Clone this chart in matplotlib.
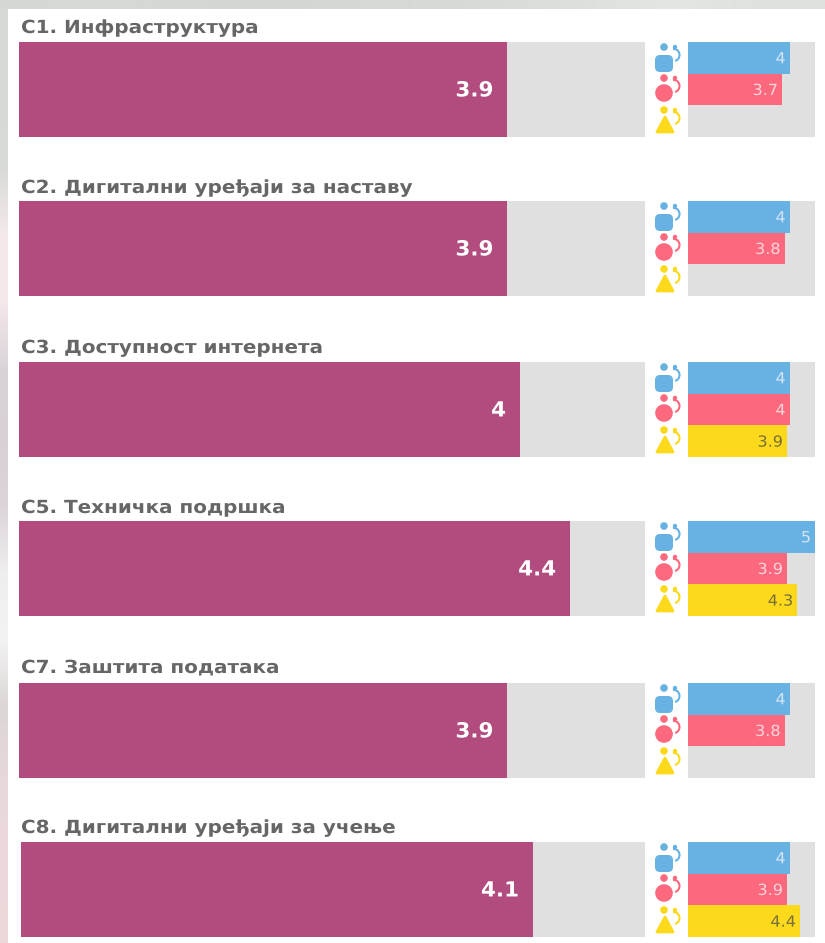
import matplotlib
matplotlib.use("Agg")
import matplotlib.pyplot as plt
import numpy as np
from matplotlib.colors import to_rgb
from matplotlib.patches import Circle, FancyBboxPatch, Polygon, Arc
from matplotlib.patheffects import AbstractPathEffect
from matplotlib.transforms import Affine2D

plt.rcParams['font.family'] = ['DejaVu Sans']

titles = ["C1. Инфраструктура", "C2. Дигитални уређаји за наставу", "C3. Доступност интернета",
          "C5. Техничка подршка", "C7. Заштита података", "C8. Дигитални уређаји за учење"]
overall = [3.9, 3.9, 4, 4.4, 3.9, 4.1]
blue = [4, 4, 4, 5, 4, 4]
red = [3.7, 3.8, 4, 3.9, 3.8, 3.9]
yellow = [None, None, 3.9, 4.3, None, 4.4]
tops = [42, 201, 362, 521, 683, 842]
title_ys = [28, 188, 348, 508, 668, 828]
lefts = [19, 19, 19, 19, 19, 21]
left_strip = ["#d6d9d6", "#d6d9d6", "#d9dbd9", "#f4e9eb", "#f3e7ea", "#d9d3d8", "#d8d0d6", "#dcd4da",
              "#efeeee", "#f3f3f3", "#dcd6d6", "#e6d8da", "#ecd9db", "#ecd8da"]
top_strip = ["#d5d8d5", "#d6d8d5", "#d3d6d3", "#d5d8d5", "#d8dad7", "#dcdfdb", "#e4e6e2", "#dfe1de"]

W, H = 825, 943
fig = plt.figure(figsize=(W / 100, H / 100), dpi=100, facecolor="white")

# canvas in pixels for the background and icons
bg = fig.add_axes([0, 0, 1, 1])
bg.imshow(np.array([[to_rgb(c)] for c in left_strip]), extent=(0, 8, H, 0), aspect="auto", interpolation="bilinear")
bg.imshow(np.array([[to_rgb(c) for c in top_strip]]), extent=(0, W, 9, 0), aspect="auto", interpolation="bilinear")
bg.set_xlim(0, W)
bg.set_ylim(H, 0)
bg.axis("off")


class Widen(AbstractPathEffect):
    # the original text is wider than DejaVu, stretch it sideways
    def __init__(self, sx, right=False):
        super().__init__()
        self.sx = sx
        self.right = right

    def draw_path(self, renderer, gc, tpath, affine, rgbFace=None):
        x0 = tpath.get_extents().x1 if self.right else 0
        stretch = Affine2D().translate(-x0, 0).scale(self.sx, 1).translate(x0, 0)
        renderer.draw_path(gc, tpath, stretch + affine, rgbFace)


def make_axes(x0, x1, top, bottom):
    ax = fig.add_axes([x0 / W, 1 - bottom / H, (x1 - x0) / W, (bottom - top) / H])
    ax.set_facecolor("#e0e0e0")
    ax.set_xlim(0, 5)
    ax.set_xticks([])
    ax.set_yticks([])
    for s in ax.spines.values():
        s.set_visible(False)
    return ax


def draw_icon(kind, cx, cy, color):
    # big figure on the left, small one with an arm on the right
    bg.add_patch(Circle((cx - 3, cy - 12), 3.8, color=color, lw=0))
    if kind == "square":
        bg.add_patch(FancyBboxPatch((cx - 12, cy - 4), 18, 17, boxstyle="round,pad=0,rounding_size=5", color=color, lw=0))
    elif kind == "circle":
        bg.add_patch(Circle((cx - 3, cy + 3), 8.8, color=color, lw=0))
    else:
        bg.add_patch(Polygon([(cx - 2, cy - 5), (cx + 6, cy + 10), (cx - 10, cy + 10)], closed=True,
                             facecolor=color, edgecolor=color, lw=2, joinstyle="round"))
    bg.add_patch(Circle((cx + 8, cy - 12), 2.2, color=color, lw=0))
    bg.add_patch(Arc((cx + 7, cy - 4), 11, 12, theta1=-100, theta2=80, color=color, lw=1.5))


for i in range(len(titles)):
    top = tops[i]
    bottom = top + 95
    bg.text(21, title_ys[i], titles[i], fontsize=13, fontweight="bold", color="#666666", va="center", ha="left",
            path_effects=[Widen(1.105)])

    ax = make_axes(lefts[i], 645, top, bottom)
    ax.set_ylim(0, 1)
    ax.barh(0.5, overall[i], height=1, color="#b24c7f", linewidth=0)
    ax.text(overall[i] - 0.11, 0.49, str(overall[i]), color="white", fontsize=15, fontweight="bold",
            ha="right", va="center", path_effects=[Widen(1.03, right=True)])

    small = make_axes(688, 815, top, bottom)
    small.set_ylim(3, 0)
    small.barh(0.5, blue[i], height=1, color="#68b2e3", linewidth=0)
    small.text(blue[i] - 0.16, 0.53, str(blue[i]), color="#d3e5f4", fontsize=11, ha="right", va="center",
               path_effects=[Widen(1.05, right=True)])
    small.barh(1.5, red[i], height=1, color="#fc687d", linewidth=0)
    small.text(red[i] - 0.16, 1.53, str(red[i]), color="#fbd5da", fontsize=11, ha="right", va="center",
               path_effects=[Widen(1.05, right=True)])
    if yellow[i] is not None:
        small.barh(2.5, yellow[i], height=1, color="#fdd91c", linewidth=0)
        small.text(yellow[i] - 0.16, 2.53, str(yellow[i]), color="#77703a", fontsize=11, ha="right", va="center",
                   path_effects=[Widen(1.05, right=True)])

    draw_icon("square", 667, top + 17, "#68b2e3")
    draw_icon("circle", 667, top + 48, "#fc687d")
    draw_icon("triangle", 667, top + 80, "#fdd91c")

fig.savefig("out.png", dpi=100, facecolor="white")
